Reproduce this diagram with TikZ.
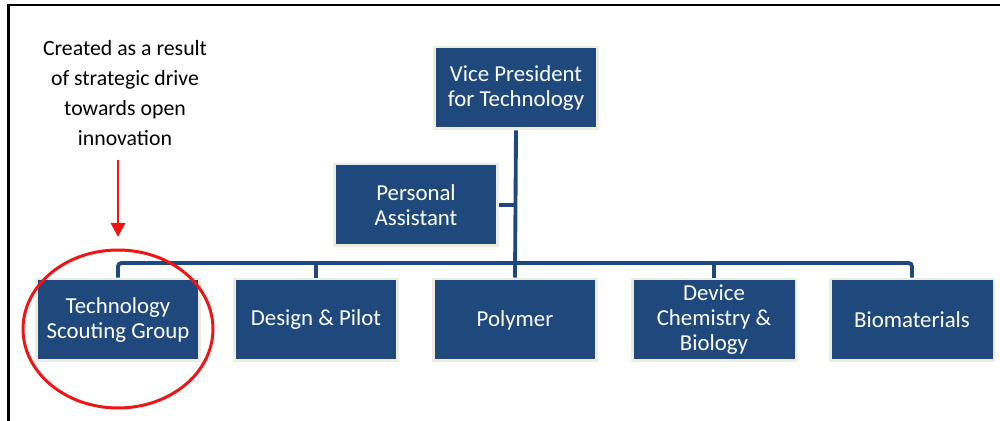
\documentclass[tikz,border=0pt]{standalone}
\definecolor{boxnavy}{RGB}{31, 73, 125}
\definecolor{boxcream}{RGB}{238, 236, 225}
\definecolor{markred}{RGB}{240, 20, 20}
\usepackage{fontspec}
\setmainfont{Carlito}
\usepackage{tikz}
\usetikzlibrary{shapes, arrows.meta, positioning, calc}

\begin{document}
\begin{tikzpicture}[x=0.02cm, y=-0.02cm,
    orgbox/.style={draw=boxcream, line width=1.7pt, fill=boxnavy,
      text=white, align=center, minimum width=3.28cm, minimum height=1.64cm,
      inner sep=2pt, font=\fontsize{13}{14.2}\selectfont},
    link/.style={draw=boxnavy, line width=2.2pt}]
    \useasboundingbox (0,0) rectangle (1000,421);

    % Frame
    \draw[line width=1.2pt] (1000,5) -- (8.5,5) -- (8.5,421);

    % Top
    \node[orgbox] (vp) at (516, 88) {Vice President\\for Technology};
    \node[orgbox] (pa) at (416, 205) {Personal\\Assistant};

    % Groups
    \node[orgbox] (tsg) at (118, 320) {Technology\\Scouting Group};
    \node[orgbox] (dp) at (316, 320) {Design \& Pilot};
    \node[orgbox] (poly) at (515, 320) {Polymer};
    \node[orgbox] (dcb) at (714, 320) {Device\\Chemistry \&\\Biology};
    \node[orgbox] (bio) at (912, 320) {Biomaterials};

    % Lines
    \coordinate (bar) at (515, 263);
    \draw[link] (vp.south) -- (poly.north);
    \draw[link] (pa.east) -- (pa.east -| vp.south);
    \draw[link, rounded corners=2pt] (tsg.north) |- (bar) -| (bio.north);
    \draw[link] (dp.north) -- (dp.north |- bar);
    \draw[link] (dcb.north) -- (dcb.north |- bar);

    % Note
    \node[align=center, font=\fontsize{12.4}{17}\selectfont] (note) at (125, 93)
      {Created as a result\\of strategic drive\\towards open\\innovation};
    \coordinate (tip) at (118, 237);
    \draw[markred, line width=1.7pt, -{Triangle[length=8pt, width=8pt]}]
      (note.south -| tip) ++(0,8) -- (tip);
    \draw[markred, line width=1.7pt] (118, 329) ellipse [x radius=1.9cm, y radius=1.58cm];
  \end{tikzpicture}
\end{document}
